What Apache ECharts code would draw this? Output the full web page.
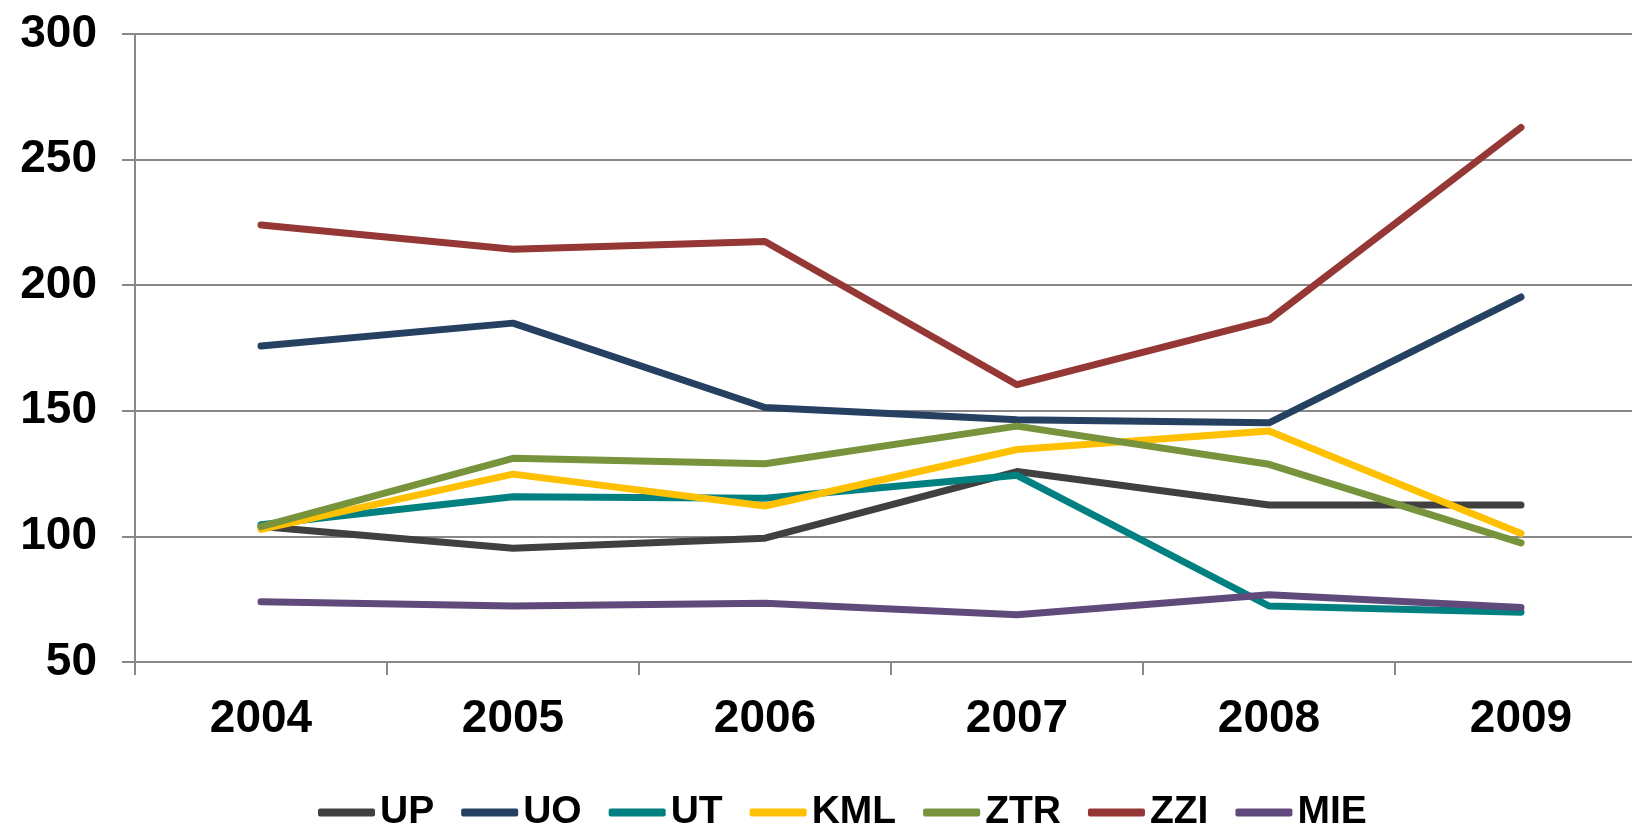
<!DOCTYPE html>
<html>
<head>
<meta charset="utf-8">
<script src="https://cdn.jsdelivr.net/npm/echarts@6/dist/echarts.min.js"></script>
<style>
  html, body { margin: 0; padding: 0; background: #fff; overflow: hidden; }
  /* a bit wider than the window: the last band is cut off on the right in the original */
  #chart { width: 1647px; height: 830px; }
</style>
</head>
<body>
<div id="chart"></div>
<script>
// values
var years = ['2004', '2005', '2006', '2007', '2008', '2009']
var yTicks = { min: 50, max: 300, interval: 50 }

var up  = [103.9, 95.3, 99.3, 125.8, 112.5, 112.5]
var uo  = [175.8, 184.9, 151.3, 146.4, 145.2, 195.3]
var ut  = [104.6, 115.8, 115.2, 124.3, 72.3, 69.8]
var kml = [102.8, 124.8, 112.1, 134.6, 142.0, 101.2]
var ztr = [103.9, 131.1, 128.9, 143.9, 128.7, 97.4]
var zzi = [224.0, 214.3, 217.4, 160.4, 186.2, 262.8]
var mie = [74.0, 72.3, 73.4, 68.8, 76.8, 71.7]

var names = ['UP', 'UO', 'UT', 'KML', 'ZTR', 'ZZI', 'MIE']
var values = [up, uo, ut, kml, ztr, zzi, mie]
var colors = ['#404040', '#254061', '#008080', '#FFC000', '#77933C', '#953735', '#604A7B']

var font = 'Liberation Sans, Arial, sans-serif'
var gray = '#888888'

var chart = echarts.init(document.getElementById('chart'))

chart.setOption({
  animation: false,
  color: colors,
  grid: {
    left: 135,
    top: 34,
    right: 0,
    height: 628
  },
  legend: {
    left: 318,
    top: 793,
    padding: 0,
    itemWidth: 57,
    itemHeight: 8,
    itemGap: 27,
    icon: 'roundRect',
    textStyle: { fontFamily: font, fontWeight: 'bold', fontSize: 39, color: '#000' },
    data: names
  },
  xAxis: {
    type: 'category',
    data: years,
    boundaryGap: true,
    axisLine: { lineStyle: { color: gray, width: 2 } },
    axisTick: { show: true, length: 13, lineStyle: { color: gray, width: 2 } },
    axisLabel: {
      margin: 34,
      color: '#000',
      fontFamily: font,
      fontWeight: 'bold',
      fontSize: 46
    }
  },
  yAxis: {
    type: 'value',
    min: yTicks.min,
    max: yTicks.max,
    interval: yTicks.interval,
    axisLine: { show: true, lineStyle: { color: gray, width: 2 } },
    axisTick: { show: true, length: 13, lineStyle: { color: gray, width: 2 } },
    splitLine: { lineStyle: { color: gray, width: 2 } },
    axisLabel: {
      margin: 38,
      color: '#000',
      fontFamily: font,
      fontWeight: 'bold',
      fontSize: 46
    }
  },
  series: names.map(function (n, i) {
    return {
      name: n,
      type: 'line',
      data: values[i],
      symbol: 'none',
      lineStyle: { width: 7, color: colors[i], cap: 'round', join: 'round' }
    }
  })
})
</script>
</body>
</html>
